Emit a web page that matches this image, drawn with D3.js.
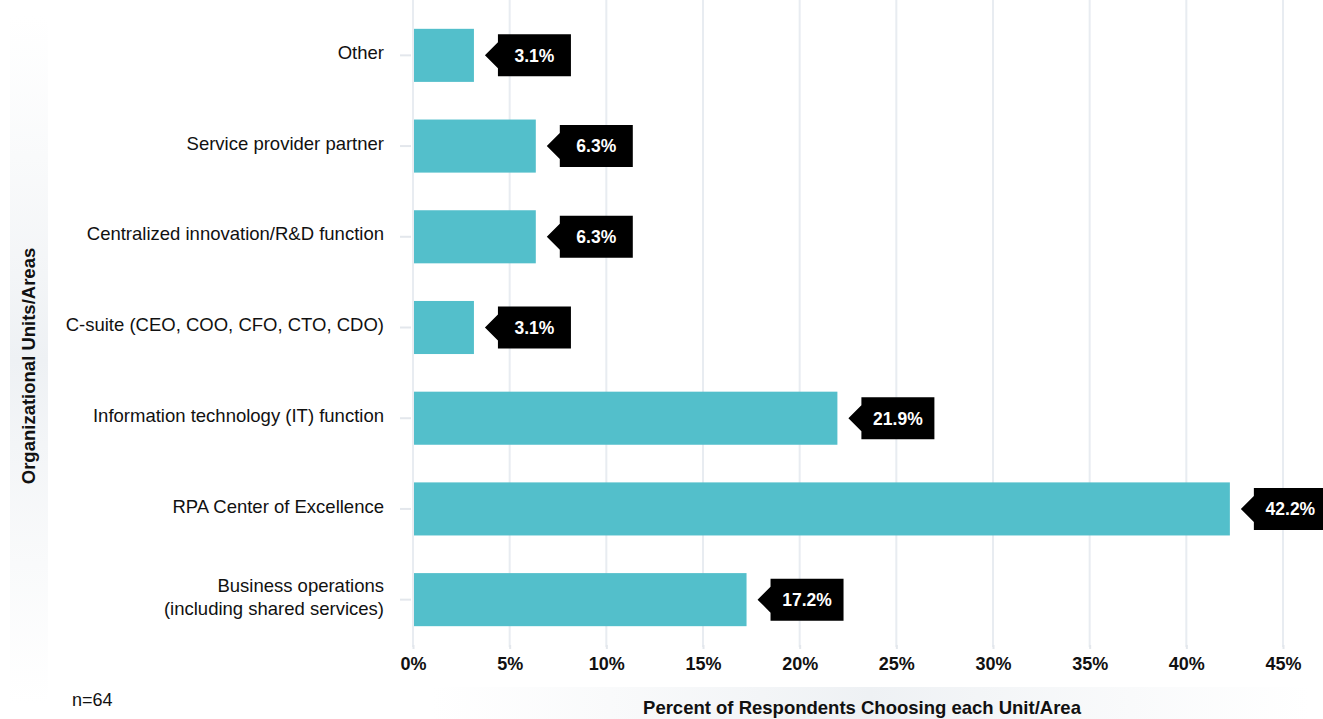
<!DOCTYPE html>
<html>
<head>
<meta charset="utf-8">
<script src="https://cdn.jsdelivr.net/npm/d3@7"></script>
<style>
  html, body { margin: 0; padding: 0; background: #fff; }
  svg { display: block; font-family: "Liberation Sans", Arial, sans-serif; }
</style>
</head>
<body>
<svg id="chart" width="1323" height="719"></svg>
<script>
// Survey results: which unit/area owns the automation program
const categories = [
  "Other",
  "Service provider partner",
  "Centralized innovation/R&D function",
  "C-suite (CEO, COO, CFO, CTO, CDO)",
  "Information technology (IT) function",
  "RPA Center of Excellence",
  "Business operations\n(including shared services)"
];
const values = [3.1, 6.3, 6.3, 3.1, 21.9, 42.2, 17.2];
const xTicks = [0, 5, 10, 15, 20, 25, 30, 35, 40, 45];
const xTitle = "Percent of Respondents Choosing each Unit/Area";
const yTitle = "Organizational Units/Areas";
const note = "n=64";

const svg = d3.select("#chart");
const W = 1323, H = 719;
const m = { left: 413, right: 40, top: 10, bottom: 74 };

const x = d3.scaleLinear().domain([0, 45]).range([m.left, W - m.right]);
const y = d3.scaleBand().domain(categories).range([m.top, H - m.bottom]).paddingInner(0.415).paddingOuter(0.2075);

const defs = svg.append("defs");
const gv = defs.append("linearGradient").attr("id", "bandV").attr("x1", 0).attr("y1", 0).attr("x2", 0).attr("y2", 1);
gv.append("stop").attr("offset", 0).attr("stop-color", "#f2f4f6").attr("stop-opacity", 0);
gv.append("stop").attr("offset", 0.5).attr("stop-color", "#eef1f4").attr("stop-opacity", 1);
gv.append("stop").attr("offset", 1).attr("stop-color", "#f2f4f6").attr("stop-opacity", 0);
const gh = defs.append("linearGradient").attr("id", "bandH").attr("x1", 0).attr("y1", 0).attr("x2", 1).attr("y2", 0);
gh.append("stop").attr("offset", 0).attr("stop-color", "#f2f4f6").attr("stop-opacity", 0);
gh.append("stop").attr("offset", 0.5).attr("stop-color", "#eef1f4").attr("stop-opacity", 1);
gh.append("stop").attr("offset", 1).attr("stop-color", "#f2f4f6").attr("stop-opacity", 0);

// title backdrops
svg.append("rect").attr("x", 10).attr("y", 15).attr("width", 38).attr("height", 690).attr("fill", "url(#bandV)");
svg.append("rect").attr("x", 430).attr("y", 687).attr("width", 880).attr("height", 32).attr("fill", "url(#bandH)");

// vertical gridlines
svg.append("g").selectAll("line").data(xTicks).join("line")
  .attr("x1", d => x(d)).attr("x2", d => x(d))
  .attr("y1", 0).attr("y2", H - m.bottom + 2)
  .attr("stroke", "#e8ecf1").attr("stroke-width", 2);

// x axis
const xAxis = svg.append("g").attr("transform", `translate(0,${H - m.bottom})`)
  .call(d3.axisBottom(x).tickValues(xTicks).tickFormat(d => d + "%").tickSize(4).tickPadding(8));
xAxis.select(".domain").remove();
xAxis.selectAll(".tick line").attr("stroke", "#e3e7ec").attr("stroke-width", 2);
xAxis.selectAll("text").attr("fill", "#111").attr("font-size", 18).attr("font-weight", "bold")
  .attr("font-family", "Liberation Sans, Arial, sans-serif");

// y axis
const yAxis = svg.append("g").attr("transform", `translate(${m.left - 2},0)`)
  .call(d3.axisLeft(y).tickSize(11).tickPadding(16));
yAxis.select(".domain").remove();
yAxis.selectAll(".tick line").attr("stroke", "#e3e7ec").attr("stroke-width", 2);
yAxis.selectAll(".tick text").each(function(d) {
  const t = d3.select(this).text(null)
    .attr("fill", "#111").attr("font-size", 18.5)
    .attr("font-family", "Liberation Sans, Arial, sans-serif");
  const lines = d.split("\n");
  lines.forEach((ln, i) => {
    t.append("tspan").attr("x", -27).attr("dy", i === 0 ? `${0.2 - (lines.length - 1) * 0.6}em` : "1.25em").text(ln);
  });
}).attr("dy", null);

// bars
svg.append("g").selectAll("rect").data(values).join("rect")
  .attr("x", x(0) + 1)
  .attr("y", (d, i) => y(categories[i]))
  .attr("width", d => x(d) - x(0))
  .attr("height", y.bandwidth())
  .attr("fill", "#53bfcb");

// value callouts
const lab = svg.append("g").selectAll("g").data(values).join("g")
  .attr("transform", (d, i) => `translate(${x(d) + 12},${y(categories[i]) + y.bandwidth() / 2})`);
lab.append("path")
  .attr("d", "M0,0 L13,-13 L13,-21 L86,-21 L86,21 L13,21 L13,13 Z")
  .attr("fill", "#000");
lab.append("text")
  .attr("x", 49.5).attr("y", 0).attr("dy", "0.36em")
  .attr("text-anchor", "middle")
  .attr("fill", "#fff").attr("font-size", 17.5).attr("font-weight", "bold")
  .text(d => d.toFixed(1) + "%");

// axis titles
svg.append("text")
  .attr("transform", `translate(35,366) rotate(-90)`)
  .attr("text-anchor", "middle")
  .attr("font-size", 18.5).attr("font-weight", "bold").attr("fill", "#111")
  .text(yTitle);
svg.append("text")
  .attr("x", 862).attr("y", 714)
  .attr("text-anchor", "middle")
  .attr("font-size", 18.5).attr("font-weight", "bold").attr("fill", "#111")
  .text(xTitle);
svg.append("text")
  .attr("x", 72).attr("y", 706)
  .attr("font-size", 18).attr("fill", "#111")
  .text(note);
</script>
</body>
</html>
